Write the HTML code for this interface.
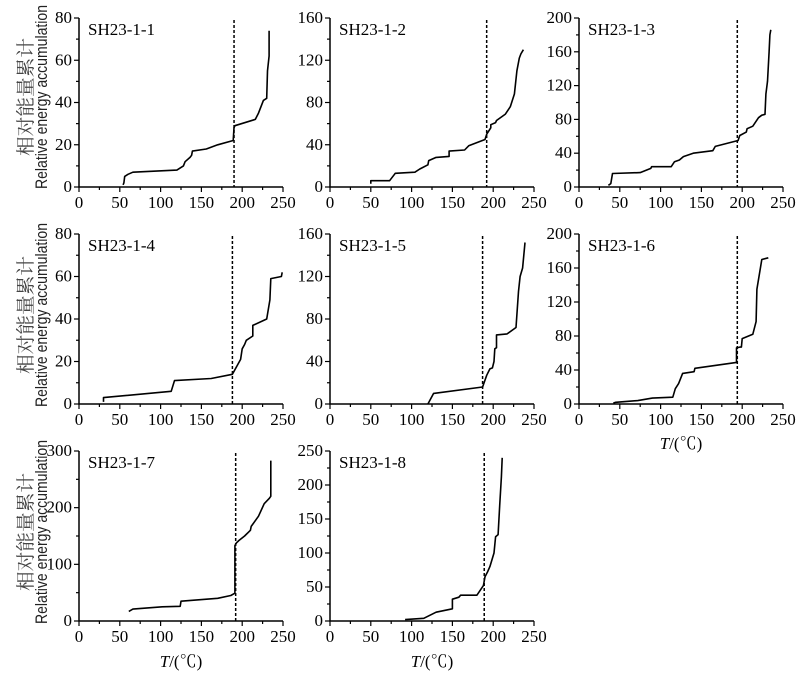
<!DOCTYPE html>
<html><head><meta charset="utf-8"><style>
html,body{margin:0;padding:0;background:#fff;}
svg{display:block;font-family:"Liberation Serif","Noto Serif CJK SC",serif;}
</style></head><body>
<svg id="fig" width="796" height="675" viewBox="0 0 796 675"></svg>
<script>
const panelNames=["SH23-1-1","SH23-1-2","SH23-1-3","SH23-1-4","SH23-1-5","SH23-1-6","SH23-1-7","SH23-1-8"];
const yMaxes=[80,160,200,80,160,200,300,250];
const yStepsArr=[20,40,40,20,40,40,100,50];
const xTicks=[0,50,100,150,200,250];
const dashedT=[190,192,194,188,187,194,192,189];
const s1=[[54,1],[55,2],[56,5],[60,6],[66,7],[120,8],[128,10],[130,12],[136,14],[138,15],[139,17],[156,18],[170,20],[189,22],[190,28],[191,29],[216,32],[220,35],[226,41],[230,42],[231,55],[233,62],[233,74]];
const s2=[[50,3],[50,6],[73,6],[79,12],[80,13],[104,14],[110,17],[120,21],[121,25],[130,28],[146,29],[146,34],[165,35],[170,39],[190,45],[192,50],[197,56],[197,59],[203,61],[204,63],[215,69],[221,76],[226,88],[229,110],[232,122],[234,126],[237,130]];
const s3=[[36,2],[39,4],[41,16],[75,17],[88,22],[89,24],[113,24],[117,30],[123,32],[128,36],[140,40],[164,43],[167,48],[195,55],[196,58],[197,61],[205,65],[206,69],[213,72],[220,82],[224,85],[228,86],[229,110],[231,125],[233,160],[234,180],[235,186]];
const s4=[[30,1],[30,3],[113,6],[117,11],[162,12],[188,14],[198,21],[200,26],[203,28],[205,30],[213,32],[213,37],[230,40],[234,49],[235,59],[248,60],[249,62]];
const s5=[[120,0],[127,10],[187,16],[192,27],[196,33],[199,34],[201,40],[202,52],[204,53],[204,65],[217,66],[228,72],[231,106],[233,120],[236,128],[239,152]];
const s6=[[42,1],[45,2],[72,4],[90,7],[115,8],[118,18],[122,24],[127,36],[141,38],[142,42],[193,49],[193,66],[197,67],[199,67],[200,77],[213,82],[217,97],[218,135],[224,170],[232,172]];
const s7=[[61,17],[66,21],[102,25],[124,26],[125,35],[170,40],[186,45],[191,49],[191,133],[193,138],[196,142],[203,150],[210,160],[211,167],[220,185],[227,207],[233,216],[235,220],[235,283]];
const s8=[[92,2],[115,4],[130,13],[150,18],[150,32],[158,35],[160,38],[180,38],[188,52],[190,65],[193,72],[196,80],[201,100],[203,124],[206,127],[208,170],[210,212],[211,240]];
const seriesAll=[s1,s2,s3,s4,s5,s6,s7,s8];

const NS="http://www.w3.org/2000/svg";
const svg=document.getElementById('fig');
const colX=[79,330,579], rowY=[[18,187],[234,404],[451,621]];
const W=204;
function mk(tag,attrs,parent,text){const e=document.createElementNS(NS,tag);for(const k in attrs)e.setAttribute(k,attrs[k]);if(text!==undefined)e.textContent=text;(parent||svg).appendChild(e);return e;}

panelNames.forEach((nm,i)=>{
  const c=i%3,r=Math.floor(i/3);
  const x0=colX[c],y0=rowY[r][1],yt=rowY[r][0];
  const H=y0-yt;
  const ymax=yMaxes[i];
  const xs=v=>x0+v/250*W, ys=v=>y0-v/ymax*H;
  const g=mk('g',{});
  
  
  const ax=mk('path',{d:`M${x0},${yt} V${y0} H${x0+W}`,stroke:'#000','stroke-width':1.5,fill:'none'},g);
  
  
  for(let v=0;v<=250;v+=25){
    const major=v%50===0;
    mk('line',{x1:xs(v),x2:xs(v),y1:y0,y2:y0+(major?5:3),stroke:'#000','stroke-width':1.2},g);
  }
  xTicks.forEach(v=>{
    const t=mk('text',{x:xs(v),y:y0+21,'text-anchor':'middle','font-size':17},g,String(v));
    
    
  });
  const st=yStepsArr[i];
  for(let v=0;v<=ymax+0.001;v+=st/2){
    const major=Math.abs(v/st-Math.round(v/st))<1e-6;
    mk('line',{x1:x0,x2:x0-(major?5:3),y1:ys(v),y2:ys(v),stroke:'#000','stroke-width':1.2},g);
    if(major){
      const t=mk('text',{x:x0-7,y:ys(v)+5,'text-anchor':'end','font-size':17},g,String(v));
      
      
    }
  }
  const dl=mk('line',{x1:xs(dashedT[i]),x2:xs(dashedT[i]),y1:yt+2,y2:y0,stroke:'#000','stroke-width':1.5,'stroke-dasharray':'3,2'},g);
  
  
  const pts=seriesAll[i].map(p=>xs(p[0]).toFixed(1)+','+ys(p[1]).toFixed(1)).join(' ');
  const pl=mk('polyline',{points:pts,fill:'none',stroke:'#000','stroke-width':1.6,'stroke-linejoin':'round'},g);
  
  
  const lb=mk('text',{x:x0+9,y:yt+17,'font-size':17},g,nm);
  
  
});
[97,315,532].forEach(cy=>{
  const t1=mk('text',{x:0,y:0,'font-size':19,'text-anchor':'middle',textLength:118,lengthAdjust:'spacingAndGlyphs',transform:`translate(32,${cy}) rotate(-90)`,fill:'#444'},svg,'相对能量累计');
  
  
  const t2=mk('text',{x:0,y:0,'font-size':17,'text-anchor':'middle',textLength:184,lengthAdjust:'spacingAndGlyphs',transform:`translate(47,${cy}) rotate(-90)`,fill:'#222',style:'font-family:"Liberation Sans",sans-serif'},svg,'Relative energy accumulation');
  
  
});
[[681,449],[181,667],[432,667]].forEach(p=>{
  const t=mk('text',{x:p[0],y:p[1],'font-size':17,'text-anchor':'middle'},svg);
  
  
  mk('tspan',{'font-style':'italic'},t,'T');
  mk('tspan',{},t,'/(℃)');
});
</script>
</body></html>
